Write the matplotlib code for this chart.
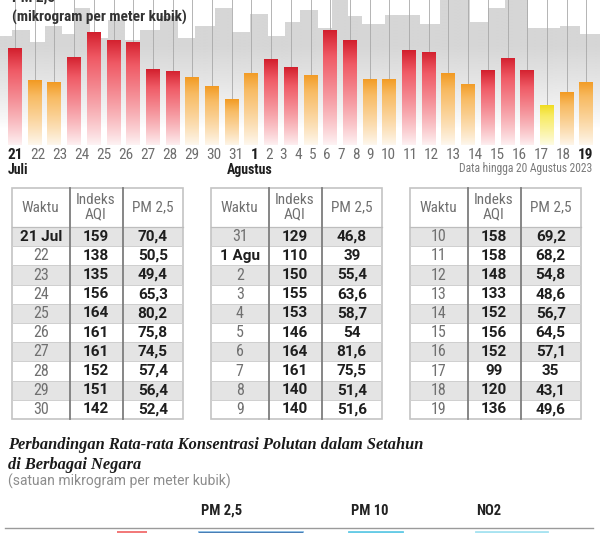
import numpy as np
import matplotlib
matplotlib.use("Agg")
import matplotlib.pyplot as plt
from matplotlib import font_manager as fm
from matplotlib.patches import Rectangle, Polygon
from matplotlib.colors import to_rgb

# data
days = ['21', '22', '23', '24', '25', '26', '27', '28', '29', '30', '31',
        '1', '2', '3', '4', '5', '6', '7', '8', '9', '10',
        '11', '12', '13', '14', '15', '16', '17', '18', '19']
waktu = ['21 Jul', '22', '23', '24', '25', '26', '27', '28', '29', '30', '31',
         '1 Agu', '2', '3', '4', '5', '6', '7', '8', '9', '10',
         '11', '12', '13', '14', '15', '16', '17', '18', '19']
aqi = [159, 138, 135, 156, 164, 161, 161, 152, 151, 142,
       129, 110, 150, 155, 153, 146, 164, 161, 140, 140,
       158, 158, 148, 133, 152, 156, 152, 99, 120, 136]
pm25 = [70.4, 50.5, 49.4, 65.3, 80.2, 75.8, 74.5, 57.4, 56.4, 52.4,
        46.8, 39, 55.4, 63.6, 58.7, 54, 81.6, 75.5, 51.4, 51.6,
        69.2, 68.2, 54.8, 48.6, 56.7, 64.5, 57.1, 35, 43.1, 49.6]
bold_days = ['21', '1', '19']
compare_cols = ['PM 2,5', 'PM 10', 'NO2']
first_row = [105, 55, 73]   # only the top edge of the next chart is visible

# skyline decoration (pixel edges / tops)
sky_x = [0, 12, 30, 45, 62, 75, 90, 108, 125, 140, 160, 178, 195, 215, 232, 250,
         268, 285, 300, 318, 332, 348, 362, 385, 420, 440, 470, 488, 505, 528, 560, 580, 600]
sky_top = [36, 30, 42, 26, 34, 8, 38, 20, 40, 30, 16, 38, 26, 8, 32, 14,
           36, 22, 10, 28, 0, 16, 24, 15, 24, 0, 22, 8, 0, 28, 26, 34]

names = {f.name for f in fm.fontManager.ttflist}
COND = 'Roboto'
for cand in ['Roboto Condensed', 'Liberation Sans Narrow']:
    if cand in names:
        COND = cand
        break

W, H = 600, 533
fig = plt.figure(figsize=(6, 5.33), dpi=100)
ax0 = fig.add_axes([0, 0, 1, 1])
ax0.set_xlim(0, W)
ax0.set_ylim(H, 0)
ax0.axis('off')
ax0.set_zorder(5)

# ---- bar chart ----
BASE, PXU, STEP, X0, BOT = 162, 1.615, 19.7, 15, 145
axb = fig.add_axes([0, 1 - BOT / H, 1, BOT / H])
x = np.arange(len(pm25))
xl = (-X0 / STEP, (W - X0) / STEP)
yl = ((BASE - BOT) / PXU, BASE / PXU)


def to_v(py):
    return (BASE - py) / PXU


def to_i(px):
    return (px - X0) / STEP


# skyline with fade
pts = [(to_i(0), yl[0])]
for i, t in enumerate(sky_top):
    pts += [(to_i(sky_x[i]), to_v(t)), (to_i(sky_x[i + 1]), to_v(t))]
pts.append((to_i(W), yl[0]))
sky = Polygon(pts, closed=True, fc='none', ec='none', transform=axb.transData)
axb.add_patch(sky)
vv = np.linspace(yl[0], to_v(-5), 200)
a = np.clip((vv - to_v(128)) / (to_v(45) - to_v(128)), 0, 1) ** 0.8
g = np.ones((200, 1, 4))
g[..., :3] = to_rgb('#d6d6d6')
g[:, 0, 3] = a
im = axb.imshow(g, extent=(xl[0], xl[1], yl[0], to_v(-5)), origin='lower',
                aspect='auto', interpolation='bilinear', zorder=1)
im.set_clip_path(sky)

# strings
axb.vlines(x, pm25, to_v(-5), colors='#a8a8a8', lw=0.6, zorder=2)

# bars with gradient
bars = axb.bar(x, pm25, width=0.71, color='none', zorder=3)
for b, v in zip(bars, pm25):
    if v > 55.45:
        top, dark = '#ec3341', '#d21f2d'
    elif v > 35.4:
        top, dark = '#f6aa3c', '#f29a22'
    else:
        top, dark = '#f6e63c', '#f0dc20'
    n = 200
    vals = np.linspace(yl[0], v, n)
    f = np.clip((vals - 8) / (v - 8), 0, 1) ** 0.85
    t = np.clip((vals / v - 0.8) / 0.2, 0, 1)
    c = np.array(to_rgb(top)) * (1 - t[:, None]) + np.array(to_rgb(dark)) * t[:, None]
    img = np.ones((n, 1, 4))
    img[:, 0, :3] = 1 - f[:, None] * (1 - c)
    gi = axb.imshow(img, extent=(b.get_x(), b.get_x() + b.get_width(), yl[0], v),
                    origin='lower', aspect='auto', interpolation='bilinear', zorder=3)
    gi.set_clip_path(b)

axb.set_xlim(*xl)
axb.set_ylim(*yl)
axb.axis('off')

# titles
ax0.text(12, 2, 'PM 2,5', fontsize=11, fontfamily=COND, fontweight='bold', color='#333', va='baseline')
ax0.text(12, 22, '(mikrogram per meter kubik)', fontsize=11, fontfamily=COND,
         fontweight='bold', color='#333', va='baseline')

# day labels laid out as a running line
lbls = []
for d in days:
    bd = d in bold_days
    lbls.append(ax0.text(0, 159, d, fontsize=11, fontfamily=COND,
                         fontweight='bold' if bd else 'normal',
                         color='#1e1e1e' if bd else '#6e6e6e', va='baseline', ha='left'))
fig.canvas.draw()
r = fig.canvas.get_renderer()
ws = [t.get_window_extent(r).width for t in lbls]
gap = (593 - 8 - sum(ws)) / (len(ws) - 1)
px = 8
for t, w in zip(lbls, ws):
    t.set_x(px)
    px += w + gap

ax0.text(8, 174, 'Juli', fontsize=10, fontfamily=COND, fontweight='bold', color='#1e1e1e', va='baseline')
ax0.text(227, 174, 'Agustus', fontsize=10, fontfamily=COND, fontweight='bold', color='#1e1e1e', va='baseline')
ax0.text(592, 172, 'Data hingga 20 Agustus 2023', fontsize=8.3, fontfamily=COND,
         color='#7a7a7a', va='baseline', ha='right')

# ---- tables ----
def draw_table(x0, w_col, a_col, p_col):
    xs = np.cumsum([x0, 57.5, 53, 60.5])
    top, hdr, rh = 188, 227, 19.2
    for rr in range(len(w_col)):
        y = hdr + rr * rh
        if rr % 2 == 0:
            ax0.add_patch(Rectangle((xs[0], y), xs[-1] - xs[0], rh, fc='#e4e4e4', ec='none'))
        if rr > 0:
            ax0.plot([xs[0], xs[-1]], [y, y], color='#cfcfcf', lw=0.7)
        yc = y + rh / 2
        bw = w_col[rr] in ('21 Jul', '1 Agu')
        ax0.text((xs[0] + xs[1]) / 2, yc, w_col[rr], fontsize=11.5 if not bw else 11,
                 fontfamily=COND if not bw else 'Roboto',
                 fontweight='bold' if bw else 'normal', color='#1e1e1e' if bw else '#707070',
                 ha='center', va='center')
        ax0.text((xs[1] + xs[2]) / 2, yc, str(a_col[rr]), fontsize=11, fontfamily='Roboto',
                 fontweight='bold', color='#1e1e1e', ha='center', va='center')
        ax0.text((xs[2] + xs[3]) / 2, yc, f'{p_col[rr]:g}'.replace('.', ','), fontsize=11,
                 fontfamily='Roboto', fontweight='bold', color='#1e1e1e', ha='center', va='center')
    bottom = hdr + len(w_col) * rh
    ax0.plot([xs[0], xs[-1]], [hdr, hdr], color='#bdbdbd', lw=0.9)
    ax0.add_patch(Rectangle((xs[0], top), xs[-1] - xs[0], bottom - top, fc='none', ec='#c4c4c4', lw=1.2))
    for xv in xs[1:3]:
        ax0.plot([xv, xv], [top, bottom], color='#7d7d7d', lw=1.3)
    hy = (top + hdr) / 2
    ax0.text((xs[0] + xs[1]) / 2, hy, 'Waktu', fontsize=11, fontfamily=COND, color='#707070', ha='center', va='center')
    ax0.text((xs[1] + xs[2]) / 2, hy, 'Indeks\nAQI', fontsize=11, fontfamily=COND, color='#707070',
             ha='center', va='center', linespacing=1.0)
    ax0.text((xs[2] + xs[3]) / 2, hy, 'PM 2,5', fontsize=11, fontfamily=COND, color='#707070', ha='center', va='center')


for k, x0 in enumerate([12, 211, 410]):
    s = slice(k * 10, k * 10 + 10)
    draw_table(x0, waktu[s], aqi[s], pm25[s])

# ---- comparison section ----
ax0.text(8, 449, 'Perbandingan Rata-rata Konsentrasi Polutan dalam Setahun', fontsize=11.8,
         fontfamily='Liberation Serif', fontweight='bold', fontstyle='italic', color='#1a1a1a', va='baseline')
ax0.text(8, 469, 'di Berbagai Negara', fontsize=11.8, fontfamily='Liberation Serif',
         fontweight='bold', fontstyle='italic', color='#1a1a1a', va='baseline')
ax0.text(8, 486, '(satuan mikrogram per meter kubik)', fontsize=10, fontfamily='Roboto',
         color='#8c8c8c', va='baseline')
col_starts = [198, 348, 475]
for cx, lab in zip([222, 370, 489], compare_cols):
    ax0.text(cx, 515, lab, fontsize=10.5, fontfamily=COND, fontweight='bold', color='#222',
             ha='center', va='baseline')
ax0.plot([5, 593], [528, 528], color='#9a9a9a', lw=1)

axc = fig.add_axes([0, 0, 1, 2.5 / H])
axc.barh(0.5, first_row, left=col_starts, height=1,
         color=['#4a7db4', '#66cbe6', '#a8e3f1'], edgecolor=['#8fc3ea', '#66cbe6', '#a8e3f1'], lw=0.6)
axc.barh(0.5, [30], left=[117], height=1, color='#f27a7a')
axc.set_xlim(0, W)
axc.set_ylim(0, 1)
axc.axis('off')

fig.savefig('out.png', dpi=100)
